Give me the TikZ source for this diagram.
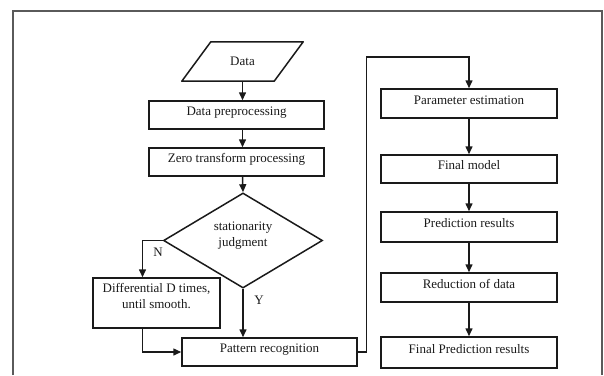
\documentclass[tikz,border=0pt]{standalone}
\usepackage{fontspec}
\setmainfont{Liberation Serif}
\usetikzlibrary{arrows.meta,shapes.geometric}
\definecolor{fcframe}{HTML}{5A5A5A}
\definecolor{fcink}{HTML}{1A1A1A}
\tikzset{
  proc/.style={rectangle,draw=fcink,line width=1.5pt,minimum width=175pt,minimum height=28pt,inner sep=1pt,text height=9pt,text depth=8pt,font=\fontsize{13}{16}\selectfont,text=fcink},
  io/.style={rectangle,minimum width=92pt,minimum height=39pt,inner sep=0pt,font=\fontsize{13}{16}\selectfont,text=fcink},
  decision/.style={diamond,draw=fcink,line width=1.5pt,minimum width=159pt,minimum height=89pt,inner sep=0pt,align=center,font=\fontsize{13}{16}\selectfont,text=fcink},
  flow/.style={->,draw=fcink,line width=1.5pt},
  tag/.style={font=\fontsize{13}{16}\selectfont,text=fcink},
}

\begin{document}
\begin{tikzpicture}[x=1pt,y=-1pt,>={Triangle[length=8pt,width=7pt]}]
  \useasboundingbox (0,0) rectangle (604,375);
  \draw[fcframe,line width=2pt] (12.7,375) -- (12.7,11) -- (602,11) -- (602,375);
  \node[io] (data) at (242.5,61.5) {Data};
  \draw[fcink,line width=1.5pt,line join=round] ([xshift=-14.5pt]data.south west) -- ([xshift=14.5pt]data.north west)
    -- ([xshift=14.5pt]data.north east) -- ([xshift=-14.5pt]data.south east) -- cycle;
  \node[proc] (prep) at (236.5,115) {Data preprocessing};
  \node[proc] (zero) at (236.5,162) {Zero transform processing};
  \node[decision] (judge) at (243,240.5) {stationarity\\judgment\\[-4pt]};
  \node[proc,minimum width=127pt,minimum height=50pt,align=center,text height=,text depth=] (diff) at (156.5,303) {Differential D times,\\until smooth.\\[-1pt]};
  \node[proc] (pattern) at (269.5,352) {Pattern recognition};
  \node[proc,minimum width=176pt,minimum height=29pt] (param) at (469,103.5) {Parameter estimation};
  \node[proc,minimum width=176pt,minimum height=28pt] (model) at (469,169) {Final model};
  \node[proc,minimum width=176pt,minimum height=30pt] (pred) at (469,227) {Prediction results};
  \node[proc,minimum width=176pt,minimum height=29pt] (reduce) at (469,287.5) {Reduction of data};
  \node[proc,minimum width=176pt,minimum height=31pt] (result) at (469,352.5) {Final Prediction results};
  \coordinate (nfork) at (142.5,240.5);
  \coordinate (loop) at (366.5,57);
  \draw[flow] (data.south) -- (data.south |- prep.north);
  \draw[flow] (data.south |- prep.south) -- (data.south |- zero.north);
  \draw[flow] (data.south |- zero.south) -- (judge.north);
  \draw[flow] (judge.west) -- (nfork) -- (nfork |- diff.north);
  \node[tag] (no) at (158,252) {N};
  \draw[flow] (judge.south) -- (judge.south |- pattern.north);
  \node[tag] (yes) at (259,300) {Y};
  \draw[flow] (nfork |- diff.south) |- (pattern.west);
  \draw[flow] (pattern.east) -| (loop) -| (param.north);
  \draw[flow] (param) -- (model);
  \draw[flow] (model) -- (pred);
  \draw[flow] (pred) -- (reduce);
  \draw[flow] (reduce) -- (result);
\end{tikzpicture}
\end{document}
